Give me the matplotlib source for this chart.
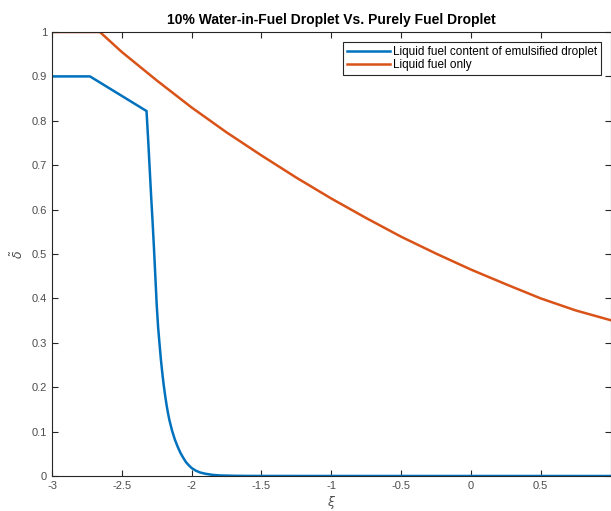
import matplotlib
matplotlib.use("Agg")
import matplotlib.pyplot as plt

plt.rcParams['font.family'] = ['Liberation Sans', 'DejaVu Sans']
plt.rcParams['mathtext.fontset'] = 'dejavusans'

title = "10% Water-in-Fuel Droplet Vs. Purely Fuel Droplet"
label_emul = "Liquid fuel content of emulsified droplet"
label_fuel = "Liquid fuel only"

xi_emul = [-3.0, -2.728, -2.323, -2.31, -2.30, -2.29, -2.28, -2.27, -2.26, -2.25,
           -2.24, -2.23, -2.22, -2.21, -2.20, -2.19, -2.18, -2.17, -2.16, -2.14,
           -2.12, -2.10, -2.08, -2.06, -2.04, -2.02, -2.00, -1.97, -1.94, -1.90,
           -1.85, -1.80, -1.70, -1.60, -1.5, 1.0]
delta_emul = [0.9, 0.9, 0.822, 0.750, 0.690, 0.630, 0.575, 0.515, 0.450, 0.385,
              0.335, 0.298, 0.262, 0.232, 0.205, 0.182, 0.161, 0.143, 0.127, 0.102,
              0.082, 0.066, 0.052, 0.041, 0.031, 0.024, 0.018, 0.012, 0.008, 0.005,
              0.0025, 0.0013, 0.0005, 0.0002, 0.0001, 0.0]

xi_fuel = [-3.0, -2.657, -2.5, -2.25, -2.0, -1.75, -1.5, -1.25, -1.0, -0.75,
           -0.5, -0.25, 0.0, 0.25, 0.5, 0.75, 1.0]
delta_fuel = [1.0, 1.0, 0.955, 0.891, 0.830, 0.774, 0.722, 0.672, 0.625, 0.581,
              0.539, 0.501, 0.465, 0.432, 0.400, 0.373, 0.351]

xticks = [-3, -2.5, -2, -1.5, -1, -0.5, 0, 0.5]
xticklabels = ["-3", "-2.5", "-2", "-1.5", "-1", "-0.5", "0", "0.5"]
yticks = [0, 0.1, 0.2, 0.3, 0.4, 0.5, 0.6, 0.7, 0.8, 0.9, 1]
yticklabels = ["0", "0.1", "0.2", "0.3", "0.4", "0.5", "0.6", "0.7", "0.8", "0.9", "1"]

W, H = 611, 511
fig = plt.figure(figsize=(W / 100, H / 100), dpi=100)
ax = fig.add_axes([52 / W, (H - 476) / H, (610.5 - 52) / W, (476 - 32) / H])

c_blue = (0.0, 0.447, 0.741)
c_orange = (0.85, 0.325, 0.098)
ax.plot(xi_emul, delta_emul, color=c_blue, lw=1.8, label=label_emul)
ax.plot(xi_fuel, delta_fuel, color=c_orange, lw=1.8, label=label_fuel)

ax.set_xlim(-3, 1)
ax.set_ylim(0, 1)
ax.set_xticks(xticks)
ax.set_xticklabels(xticklabels)
ax.set_yticks(yticks)
ax.set_yticklabels(yticklabels)

gray = (0.15, 0.15, 0.15)
ax.tick_params(direction='in', top=True, right=True, length=4, width=0.8,
               colors=gray, labelsize=8, labelcolor=(0.3, 0.3, 0.3))
for s in ax.spines.values():
    s.set_color(gray)
    s.set_linewidth(0.8)

ax.set_title(title, fontsize=10, fontweight='bold', pad=6)
ax.set_xlabel(r'$\xi$', fontsize=9, color=(0.3, 0.3, 0.3), labelpad=2)
ax.set_ylabel(r'$\tilde{\delta}$', fontsize=9, color=(0.3, 0.3, 0.3), labelpad=4)

leg = ax.legend(loc='upper right', bbox_to_anchor=(0.99, 0.985), fontsize=8.5,
                frameon=True, fancybox=False, edgecolor=gray, framealpha=1,
                borderpad=0.35, handlelength=3.6, handletextpad=0.3,
                labelspacing=0.05, borderaxespad=0.3)
leg.get_frame().set_linewidth(0.8)

fig.savefig("out.png", dpi=100)
